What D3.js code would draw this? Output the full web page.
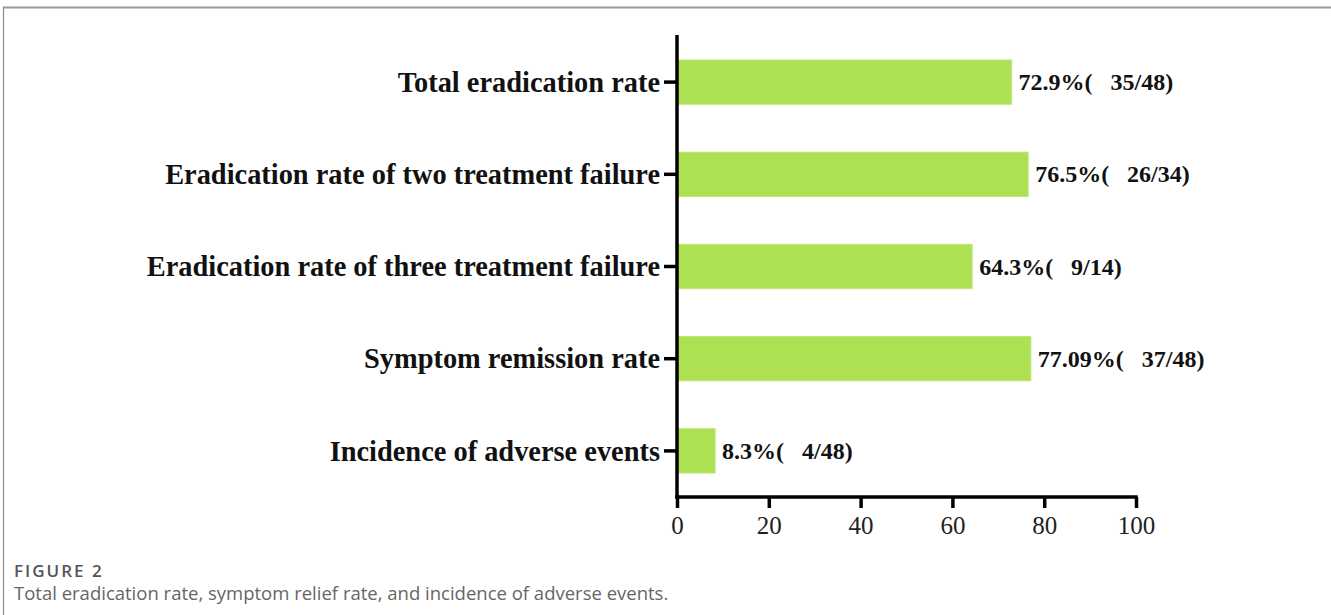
<!DOCTYPE html>
<html>
<head>
<meta charset="utf-8">
<script src="https://cdn.jsdelivr.net/npm/d3@7/dist/d3.min.js"></script>
<style>
  html, body { margin: 0; padding: 0; background: #fff; }
  svg { display: block; }
  .val { white-space: pre; }
</style>
</head>
<body>
<svg id="chart" width="1331" height="615"></svg>
<script>
// Outcome categories, top to bottom
const categories = [
  "Total eradication rate",
  "Eradication rate of two treatment failure",
  "Eradication rate of three treatment failure",
  "Symptom remission rate",
  "Incidence of adverse events"
];
// Rates in percent
const rates = [72.9, 76.5, 64.3, 77.09, 8.3];
// Counts shown next to each bar
const counts = ["35/48", "26/34", "9/14", "37/48", "4/48"];
// x-axis tick values
const xTicks = [0, 20, 40, 60, 80, 100];

const svg = d3.select("#chart");

// Page frame: top rule and left rule
svg.append("line")
  .attr("x1", 3).attr("x2", 1331).attr("y1", 7.5).attr("y2", 7.5)
  .attr("stroke", "#9a9a9a").attr("stroke-width", 2);
svg.append("line")
  .attr("x1", 3.5).attr("x2", 3.5).attr("y1", 7).attr("y2", 615)
  .attr("stroke", "#8a8a8a").attr("stroke-width", 1.2);

const x = d3.scaleLinear().domain([0, 100]).range([677, 1136]);
const y = d3.scaleBand().domain(categories).range([36, 497])
  .paddingInner(0.52).paddingOuter(0.26);

const serif = "'Liberation Serif', 'Times New Roman', serif";
const g = svg.append("g");

// Bars
g.selectAll("rect.bar")
  .data(categories)
  .join("rect")
  .attr("class", "bar")
  .attr("x", x(0))
  .attr("y", d => y(d))
  .attr("width", (d, i) => x(rates[i]) - x(0))
  .attr("height", y.bandwidth())
  .attr("fill", "#ade052")
  .attr("stroke", "#bde677")
  .attr("stroke-width", 1);

// Value labels: rate and count
g.selectAll("text.val")
  .data(categories)
  .join("text")
  .attr("class", "val")
  .attr("x", (d, i) => x(rates[i]) + 7)
  .attr("y", d => y(d) + y.bandwidth() / 2 + 8)
  .attr("font-family", serif)
  .attr("font-weight", "bold")
  .attr("font-size", 24)
  .attr("fill", "#111")
  .text((d, i) => `${rates[i]}%(   ${counts[i]})`);

// Y axis
const yAxis = d3.axisLeft(y).tickSize(13).tickPadding(4);
const yg = svg.append("g").attr("transform", `translate(${x(0)},0)`).call(yAxis);
yg.select(".domain").remove();
yg.append("line")
  .attr("x1", 0).attr("x2", 0).attr("y1", 35).attr("y2", 499)
  .attr("stroke", "#000").attr("stroke-width", 3.5);
yg.selectAll(".tick line").attr("stroke", "#000").attr("stroke-width", 3.5);
yg.selectAll(".tick text")
  .attr("font-family", serif)
  .attr("font-weight", "bold")
  .attr("font-size", 28.4)
  .attr("fill", "#111")
  .attr("dy", "0.34em");

// X axis
const xAxis = d3.axisBottom(x).tickValues(xTicks).tickSize(11).tickPadding(8)
  .tickFormat(d3.format("d"));
const xg = svg.append("g").attr("transform", "translate(0,497)").call(xAxis);
xg.select(".domain").remove();
xg.append("line")
  .attr("x1", x(0) - 1.75).attr("x2", x(100) + 1.75).attr("y1", 0).attr("y2", 0)
  .attr("stroke", "#000").attr("stroke-width", 3.5);
xg.selectAll(".tick line").attr("stroke", "#000").attr("stroke-width", 3.5);
xg.selectAll(".tick text")
  .attr("font-family", serif)
  .attr("font-size", 25)
  .attr("fill", "#222");

// Caption
svg.append("text")
  .attr("x", 14).attr("y", 577)
  .attr("font-family", "'Open Sans', 'Noto Sans', sans-serif")
  .attr("font-weight", 600)
  .attr("font-size", 17)
  .attr("letter-spacing", 2)
  .attr("fill", "#555")
  .text("FIGURE 2");
svg.append("text")
  .attr("x", 14).attr("y", 600)
  .attr("font-family", "'Open Sans', 'Noto Sans', sans-serif")
  .attr("font-weight", 400)
  .attr("font-size", 18.5)
  .attr("fill", "#666")
  .text("Total eradication rate, symptom relief rate, and incidence of adverse events.");
</script>
</body>
</html>
